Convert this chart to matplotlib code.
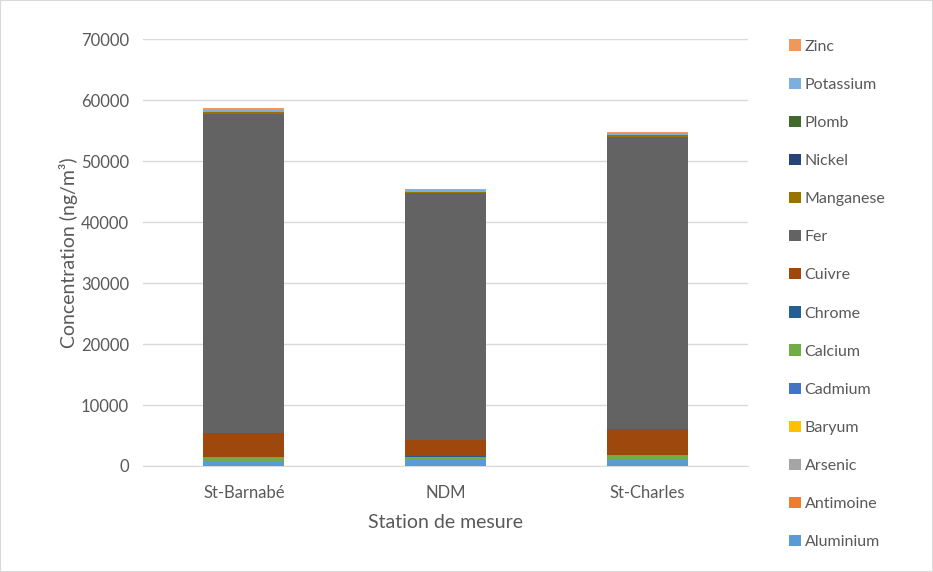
import matplotlib
matplotlib.use("Agg")
import matplotlib.pyplot as plt
from matplotlib.patches import Patch, Rectangle
import numpy as np

plt.rcParams['font.family'] = ['Lato', 'DejaVu Sans']

stations = ["St-Barnabé", "NDM", "St-Charles"]

elements = ["Aluminium", "Antimoine", "Arsenic", "Baryum", "Cadmium", "Calcium",
            "Chrome", "Cuivre", "Fer", "Manganese", "Nickel", "Plomb",
            "Potassium", "Zinc"]

aluminium = [800, 950, 1000]
antimoine = [10, 8, 12]
arsenic = [1, 1, 1]
baryum = [20, 15, 25]
cadmium = [1, 1, 1]
calcium = [650, 500, 700]
chrome = [25, 150, 30]
cuivre = [3900, 2680, 4250]
fer = [52280, 40440, 48000]
manganese = [330, 160, 300]
nickel = [10, 8, 10]
plomb = [20, 15, 20]
potassium = [380, 330, 300]
zinc = [250, 160, 220]

series = [aluminium, antimoine, arsenic, baryum, cadmium, calcium, chrome,
          cuivre, fer, manganese, nickel, plomb, potassium, zinc]

colors = ["#5B9BD5", "#ED7D31", "#A5A5A5", "#FFC000", "#4472C4", "#70AD47",
          "#255E91", "#9E480E", "#636363", "#997300", "#264478", "#43682B",
          "#7CAFDD", "#F1975A"]

fig = plt.figure(figsize=(9.33, 5.72), dpi=100)
ax = fig.add_axes([143 / 933, 1 - 466 / 572, (748 - 143) / 933, (466 - 39.3) / 572])

x = np.arange(len(stations))
bottom = np.zeros(len(stations))
for name, vals, c in zip(elements, series, colors):
    ax.bar(x, vals, width=0.4, bottom=bottom, color=c, label=name, zorder=3)
    bottom += np.array(vals)

ax.set_xlim(-0.5, 2.5)
ax.set_ylim(0, 70000)
ax.set_yticks(np.arange(0, 70001, 10000))
ax.set_xticks(x)
ax.set_xticklabels(stations)
ax.grid(axis='y', color='#D9D9D9', linewidth=1, zorder=0)
for s in ['top', 'right', 'left']:
    ax.spines[s].set_visible(False)
ax.spines['bottom'].set_color('#D9D9D9')
ax.tick_params(axis='both', length=0, labelsize=12, colors='#595959')
ax.tick_params(axis='y', pad=10)
ax.tick_params(axis='x', pad=14)
ax.set_ylabel("Concentration (ng/m³)", fontsize=14, color='#595959', labelpad=2)
ax.set_xlabel("Station de mesure", fontsize=14, color='#595959', labelpad=9)

handles = [Patch(facecolor=c, label=n) for n, c in zip(elements, colors)][::-1]
fig.legend(handles=handles, loc='upper left', bbox_to_anchor=(783 / 933, 1 - 33 / 572),
           frameon=False, fontsize=11.5, labelcolor='#595959',
           handlelength=0.7, handleheight=0.7, handletextpad=0.25,
           labelspacing=1.50, borderaxespad=0)

fig.patches.append(Rectangle((0, 0), 1, 1, transform=fig.transFigure, fill=False,
                             edgecolor='#D9D9D9', linewidth=1.5))

fig.savefig("out.png", dpi=100)
